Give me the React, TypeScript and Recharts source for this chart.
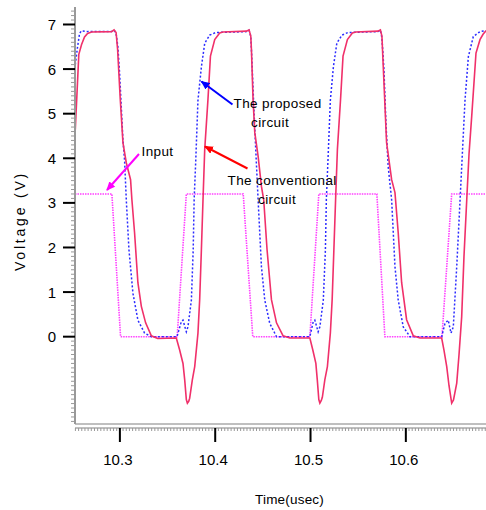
import React from "react";
import { LineChart, Line, XAxis, YAxis } from "recharts";

// ---- data (time in usec, voltage in V) ----
const CONV_T = [10.2532, 10.2569, 10.2598, 10.2629, 10.2661, 10.2703, 10.2913, 10.2939, 10.296, 10.2976, 10.3004, 10.3032, 10.3067, 10.3112, 10.3126, 10.3154, 10.3189, 10.3225, 10.327, 10.333, 10.3396, 10.3592, 10.3627, 10.3662, 10.368, 10.3697, 10.3708, 10.3722, 10.3732, 10.376, 10.3785, 10.3819, 10.3837, 10.3855, 10.3872, 10.389, 10.3924, 10.395, 10.3995, 10.4047, 10.4082, 10.4328, 10.4355, 10.4373, 10.438, 10.4397, 10.4415, 10.445, 10.4485, 10.4509, 10.4544, 10.459, 10.4643, 10.4712, 10.4783, 10.4993, 10.5024, 10.5056, 10.5071, 10.5087, 10.5098, 10.5113, 10.5124, 10.515, 10.5177, 10.5208, 10.5227, 10.5245, 10.5263, 10.5282, 10.5315, 10.5341, 10.5387, 10.5439, 10.5476, 10.5707, 10.5733, 10.5749, 10.5763, 10.5798, 10.5851, 10.5886, 10.592, 10.5956, 10.6008, 10.6078, 10.6148, 10.6376, 10.64, 10.6429, 10.6453, 10.6481, 10.65, 10.6534, 10.6558, 10.6586, 10.661, 10.6639, 10.6663, 10.6691, 10.6736, 10.6778, 10.681, 10.6841];
const CONV_V = [4.64, 6.33, 6.55, 6.72, 6.8, 6.83, 6.84, 6.88, 6.82, 6.44, 5.32, 4.35, 3.9, 3.52, 3.07, 2.33, 1.21, 0.68, 0.31, 0.02, -0.04, -0.03, -0.3, -0.6, -0.97, -1.41, -1.49, -1.45, -1.38, -0.97, -0.67, 0.08, 0.83, 1.95, 3.07, 4.2, 5.32, 6.29, 6.66, 6.81, 6.83, 6.85, 6.88, 6.74, 6.44, 5.32, 4.58, 4.05, 3.37, 3.07, 1.95, 0.83, 0.31, 0.02, -0.03, -0.03, -0.3, -0.6, -0.97, -1.41, -1.49, -1.43, -1.36, -0.97, -0.67, 0.08, 0.83, 1.95, 3.07, 4.2, 5.32, 6.29, 6.66, 6.81, 6.83, 6.85, 6.88, 6.74, 6.06, 4.35, 3.52, 3.23, 2.33, 1.21, 0.38, 0.02, -0.03, -0.03, -0.3, -0.67, -1.1, -1.49, -1.42, -1.04, -0.4, 0.45, 1.8, 3.07, 4.1, 4.94, 6.36, 6.66, 6.78, 6.86];

const PROP_T = [10.2532, 10.2556, 10.2577, 10.2598, 10.2661, 10.2913, 10.2939, 10.296, 10.2979, 10.2997, 10.3032, 10.3049, 10.3067, 10.3095, 10.3137, 10.3189, 10.3259, 10.333, 10.3599, 10.3645, 10.3662, 10.3697, 10.3714, 10.375, 10.3769, 10.3779, 10.3795, 10.3819, 10.3855, 10.389, 10.3942, 10.4005, 10.4328, 10.4355, 10.4373, 10.4383, 10.4404, 10.4425, 10.445, 10.4485, 10.452, 10.4572, 10.4643, 10.4993, 10.5029, 10.5045, 10.508, 10.5098, 10.5134, 10.5156, 10.5166, 10.5182, 10.5208, 10.524, 10.5276, 10.5329, 10.5392, 10.5707, 10.5733, 10.5749, 10.577, 10.5791, 10.5815, 10.5851, 10.5886, 10.592, 10.5973, 10.6043, 10.6376, 10.6411, 10.6445, 10.6474, 10.6498, 10.6534, 10.6569, 10.6621, 10.6656, 10.6708, 10.6778, 10.6841];
const PROP_V = [6.1, 6.5, 6.8, 6.86, 6.84, 6.84, 6.87, 6.8, 6.5, 5.9, 4.41, 3.96, 3.07, 1.95, 0.97, 0.37, 0.08, 0, 0, 0.34, 0.37, 0.11, 0.22, 0.82, 1.94, 3.07, 3.9, 5.3, 6.05, 6.58, 6.76, 6.82, 6.84, 6.87, 6.74, 6.3, 5.2, 4.2, 3.07, 1.57, 0.82, 0.3, 0, 0, 0.34, 0.37, 0.11, 0.22, 0.82, 1.94, 3.07, 3.9, 5.3, 6.05, 6.58, 6.76, 6.82, 6.84, 6.87, 6.7, 6.0, 4.8, 3.81, 3.07, 1.57, 0.82, 0.22, 0, 0, 0.3, 0.37, 0.08, 0.22, 1.57, 3.07, 5.31, 6.28, 6.73, 6.84, 6.86];

const INPUT_T = [10.2529, 10.2916, 10.3007, 10.3601, 10.3697, 10.4294, 10.4394, 10.4993, 10.5087, 10.5696, 10.578, 10.6379, 10.6481, 10.6841];
const INPUT_V = [3.2, 3.2, 0, 0, 3.2, 3.2, 0, 0, 3.2, 3.2, 0, 0, 3.2, 3.2];

const X_MAJOR = [10.3, 10.4, 10.5, 10.6];
const Y_MAJOR = [0, 1, 2, 3, 4, 5, 6, 7];
const X_DOMAIN: [number, number] = [10.2529, 10.6841];
const Y_DOMAIN: [number, number] = [-1.958, 7.392];

const zip = (ts: number[], vs: number[]) => ts.map((t, i) => ({ t, v: vs[i] }));
const convData = zip(CONV_T, CONV_V);
const propData = zip(PROP_T, PROP_V);
const inputData = zip(INPUT_T, INPUT_V);

// minor tick positions (every 1/300 usec on x, 0.1 V on y)
const xTicks: number[] = [];
for (let k = -14; 10.3 + k / 300 <= X_DOMAIN[1]; k++) xTicks.push(10.3 + k / 300);
const yTicks: number[] = [];
for (let k = -19; k <= 73; k++) yTicks.push(k / 10);

const FONT = "'Liberation Sans', Arial, sans-serif";

const isXMajor = (v: number) => X_MAJOR.some((m) => Math.abs(m - v) < 1e-6);
const isYMajor = (v: number) => Y_MAJOR.some((m) => Math.abs(m - v) < 1e-6);

const XTick = (props: any) => {
  const { x, y, payload } = props;
  const v = payload.value as number;
  if (isXMajor(v)) {
    return (
      <g>
        <line x1={x} x2={x} y1={y} y2={y + 14} stroke="#000" strokeWidth={2} />
        <text x={x - 2} y={y + 37} textAnchor="middle" fontFamily={FONT} fontSize={15} fill="#000">
          {v.toFixed(1)}
        </text>
      </g>
    );
  }
  return <line x1={x} x2={x} y1={y} y2={y + 3} stroke="#999" strokeWidth={1} />;
};

const YTick = (props: any) => {
  const { x, y, payload } = props;
  const v = payload.value as number;
  if (isYMajor(v)) {
    return (
      <g>
        <line x1={x - 12} x2={x} y1={y} y2={y} stroke="#000" strokeWidth={2} />
        <text x={x - 19} y={y + 5.5} textAnchor="end" fontFamily={FONT} fontSize={15} fill="#000">
          {Math.round(v)}
        </text>
      </g>
    );
  }
  return <line x1={x - 4} x2={x} y1={y} y2={y} stroke="#999" strokeWidth={1} />;
};

export default function App() {
  return (
    <div style={{ position: "absolute", left: 0, top: 0, width: 486, height: 510, background: "#fff" }}>
      <LineChart width={486} height={510} margin={{ top: 7, right: 0, bottom: 0, left: 0 }}>
        <XAxis
          xAxisId={0}
          type="number"
          dataKey="t"
          domain={X_DOMAIN}
          allowDataOverflow
          height={4}
          tick={false}
          tickLine={false}
          axisLine={{ stroke: "#aaa", strokeWidth: 1.5 }}
        />
        <XAxis
          xAxisId="b"
          type="number"
          dataKey="t"
          domain={X_DOMAIN}
          allowDataOverflow
          height={82}
          ticks={xTicks}
          interval={0}
          tickSize={0}
          tickMargin={0}
          tickLine={false}
          tick={<XTick />}
          axisLine={{ stroke: "#aaa", strokeWidth: 1.5 }}
        />
        <YAxis
          type="number"
          domain={Y_DOMAIN}
          allowDataOverflow
          width={75}
          ticks={yTicks}
          interval={0}
          tickSize={0}
          tickMargin={0}
          tickLine={false}
          tick={<YTick />}
          axisLine={{ stroke: "#999", strokeWidth: 2 }}
        />
        <Line
          data={inputData}
          dataKey="v"
          type="linear"
          stroke="#FF40FF"
          strokeWidth={1.6}
          strokeDasharray="1.5 1"
          dot={false}
          isAnimationActive={false}
        />
        <Line
          data={propData}
          dataKey="v"
          type="linear"
          stroke="#2B2BFF"
          strokeWidth={1.5}
          strokeDasharray="2 2"
          dot={false}
          isAnimationActive={false}
        />
        <Line
          data={convData}
          dataKey="v"
          type="linear"
          stroke="#F0306A"
          strokeWidth={1.6}
          dot={false}
          isAnimationActive={false}
        />
      </LineChart>
      <svg
        width={486}
        height={510}
        style={{ position: "absolute", left: 0, top: 0, pointerEvents: "none" }}
      >
        <defs>
          {[
            ["amag", "#FF00FF"],
            ["ablu", "#0000FF"],
            ["ared", "#FF0000"],
          ].map(([id, c]) => (
            <marker key={id} id={id} markerWidth={9} markerHeight={8} refX={8} refY={4} orient="auto" markerUnits="userSpaceOnUse">
              <path d="M0,0 L9,4 L0,8 z" fill={c} />
            </marker>
          ))}
        </defs>
        <g fontFamily={FONT} fontSize={13.5} fill="#000" letterSpacing={0.4}>
          <text x={141.5} y={156}>Input</text>
          <text x={233.5} y={107.5}>The proposed</text>
          <text x={251} y={127}>circuit</text>
          <text x={227.5} y={184.5}>The conventional</text>
          <text x={258} y={204}>circuit</text>
        </g>
        <line x1={139} y1={154} x2={107} y2={190} stroke="#FF00FF" strokeWidth={2} markerEnd="url(#amag)" />
        <line x1={232.5} y1={104.5} x2={201.5} y2={81.5} stroke="#0000FF" strokeWidth={2} markerEnd="url(#ablu)" />
        <line x1={247.5} y1={168.5} x2={205} y2={146.5} stroke="#FF0000" strokeWidth={2} markerEnd="url(#ared)" />
        <text x={289.5} y={504} textAnchor="middle" fontFamily={FONT} fontSize={13.5} fill="#000" letterSpacing={0.2}>
          Time(usec)
        </text>
        <text
          x={24.5}
          y={221}
          transform="rotate(-90 24.5 221)"
          textAnchor="middle"
          fontFamily={FONT}
          fontSize={14}
          fill="#000"
          letterSpacing={2.8}
        >
          Voltage (V)
        </text>
      </svg>
    </div>
  );
}
